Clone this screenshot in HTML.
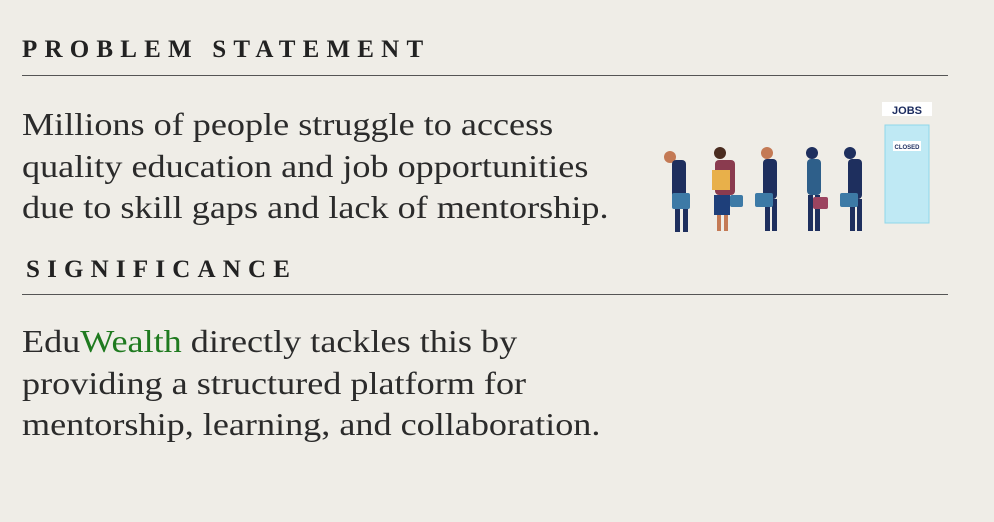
<!DOCTYPE html>
<html><head><meta charset="utf-8"><style>
html,body{margin:0;padding:0}
body{width:994px;height:522px;background:#efede7;position:relative;overflow:hidden;font-family:"Liberation Serif",serif;color:#2b2b2b}
.h{position:absolute;font-weight:bold;font-size:25px;letter-spacing:7.2px;color:#222}
.rule{position:absolute;left:22px;width:926px;height:1px;background:#555}
.p{position:absolute;left:22px;font-size:32px;line-height:41.5px;color:#2b2b2b;white-space:nowrap;transform:scaleX(1.13);transform-origin:0 0}
.g{color:#1f7a1f}
</style></head><body>
<div class="h" style="left:22px;top:36px">PROBLEM STATEMENT</div>
<div class="rule" style="top:75px"></div>
<div class="p" style="top:104px">Millions of people struggle to access<br>quality education and job opportunities<br>due to skill gaps and lack of mentorship.</div>
<div class="h" style="left:26px;top:256px">SIGNIFICANCE</div>
<div class="rule" style="top:294px"></div>
<div class="p" style="top:321px">Edu<span class="g">Wealth</span> directly tackles this by<br>providing a structured platform for<br>mentorship, learning, and collaboration.</div>
<svg style="position:absolute;left:650px;top:95px" width="295" height="145">
<g>
<rect x="232" y="7" width="50" height="14" fill="#fff"/>
<text x="257" y="19" font-size="11" font-weight="bold" text-anchor="middle" fill="#1b2b5e" font-family="Liberation Sans,sans-serif">JOBS</text>
<rect x="235" y="30" width="44" height="98" fill="#bfe9f4" stroke="#8fd6ea"/>
<rect x="243" y="46" width="28" height="10" fill="#fff"/>
<text x="257" y="54" font-size="6" font-weight="bold" text-anchor="middle" fill="#1b2b5e" font-family="Liberation Sans,sans-serif">CLOSED</text>
</g>
<g fill="#1e2f5e">
<g><circle cx="20" cy="62" r="6" fill="#c47a55"/><rect x="22" y="65" width="14" height="40" rx="4"/><rect x="25" y="105" width="5" height="32"/><rect x="33" y="105" width="5" height="32"/><rect x="22" y="98" width="18" height="16" rx="2" fill="#3d7aa6"/></g>
<g><circle cx="70" cy="58" r="6" fill="#4a2c20"/><rect x="65" y="65" width="20" height="35" rx="4" fill="#8a3b4f"/><rect x="62" y="75" width="18" height="20" fill="#e8b04a"/><rect x="64" y="100" width="16" height="20" fill="#1e3f7a"/><rect x="67" y="120" width="4" height="16" fill="#c47a55"/><rect x="74" y="120" width="4" height="16" fill="#c47a55"/><rect x="80" y="100" width="13" height="12" rx="2" fill="#3d7aa6"/></g>
<g><circle cx="117" cy="58" r="6" fill="#c47a55"/><rect x="113" y="64" width="14" height="40" rx="4"/><rect x="115" y="104" width="5" height="32"/><rect x="122" y="104" width="5" height="32"/><rect x="105" y="98" width="18" height="14" rx="2" fill="#3d7aa6"/></g>
<g><circle cx="162" cy="58" r="6" fill="#1e2f5e"/><rect x="157" y="64" width="14" height="36" rx="4" fill="#2e5f8a"/><rect x="158" y="100" width="5" height="36"/><rect x="165" y="100" width="5" height="36"/><rect x="163" y="102" width="15" height="12" rx="2" fill="#9c4460"/></g>
<g><circle cx="200" cy="58" r="6" fill="#1e2f5e"/><rect x="198" y="64" width="14" height="40" rx="4"/><rect x="200" y="104" width="5" height="32"/><rect x="207" y="104" width="5" height="32"/><rect x="190" y="98" width="18" height="14" rx="2" fill="#3d7aa6"/></g>
</g>
</svg>
</body></html>
